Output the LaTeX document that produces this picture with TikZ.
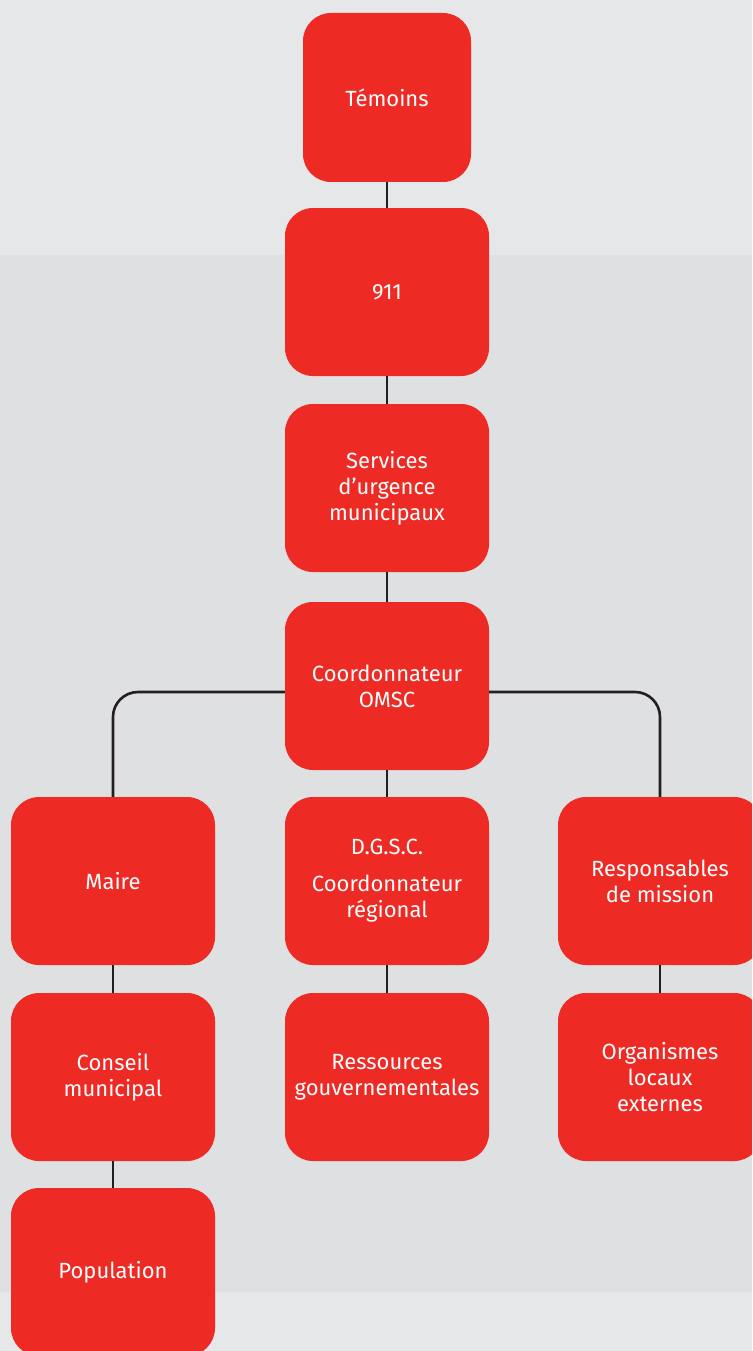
\documentclass[tikz,border=0pt]{standalone}
\usepackage{fontspec}
\setmainfont{Fira Sans}
\usetikzlibrary{calc}
\definecolor{bgray}{HTML}{E6E7E8}
\definecolor{pgray}{HTML}{DFE0E2}
\definecolor{boxred}{HTML}{EE2A24}
\definecolor{linkgray}{HTML}{231F20}
\begin{document}
\begin{tikzpicture}[x=1pt,y=-1pt,
	box/.style={rectangle, rounded corners=28pt, fill=boxred, text=white, align=center,
		minimum width=204pt, minimum height=168pt, inner sep=0pt,
		font=\fontsize{22}{26}\selectfont},
	link/.style={draw=linkgray, line width=2.6pt}]
	\clip (0,0) rectangle (752,1351);
	\fill[bgray] (0,0) rectangle (752,1351);% page background
	\fill[pgray] (0,255) rectangle (752,1292);% patterned band
	\node[box, minimum width=168pt, minimum height=169pt] (temoins) at (387,97.5) {Témoins};
	\node[box] (n911) at (387,292) {911};
	\node[box] (services) at (387,488) {Services\\d’urgence\\municipaux};
	\node[box] (omsc) at (387,686) {Coordonnateur\\OMSC};
	\node[box] (maire) at (113,881) {Maire};
	\node[box] (dgsc) at (387,881) {D.G.S.C.\\[11pt]Coordonnateur\\régional};
	\node[box] (resp) at (660,881) {Responsables\\de mission};
	\node[box] (conseil) at (113,1077) {Conseil\\municipal};
	\node[box] (ressources) at (387,1077) {Ressources\\gouvernementales};
	\node[box] (organismes) at (660,1077) {Organismes\\locaux\\externes};
	\node[box] (population) at (113,1272) {Population};
	% vertical links down the middle
	\draw[link] (temoins) -- (n911);
	\draw[link] (n911) -- (services);
	\draw[link] (services) -- (omsc);
	\draw[link] (omsc) -- (dgsc);
	\draw[link] (dgsc) -- (ressources);
	% branches to the left and right
	\draw[link, rounded corners=25pt] ([yshift=-6pt]omsc.west) -| (maire.north);
	\draw[link, rounded corners=25pt] ([yshift=-6pt]omsc.east) -| (resp.north);
	\draw[link] (maire) -- (conseil);
	\draw[link] (conseil) -- (population);
	\draw[link] (resp) -- (organismes);
\end{tikzpicture}
\end{document}
